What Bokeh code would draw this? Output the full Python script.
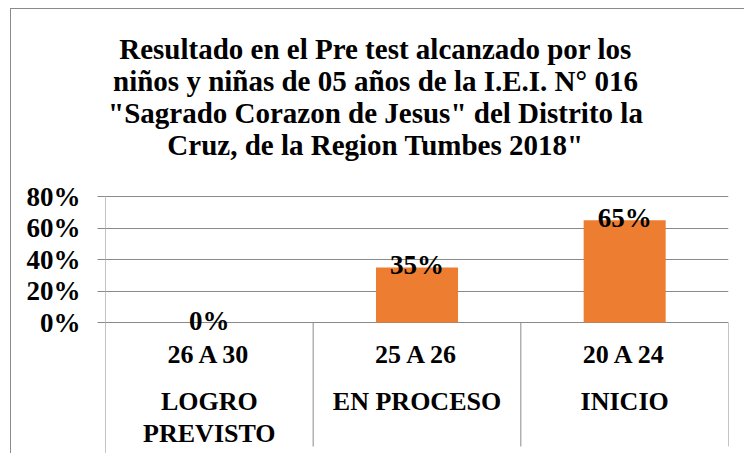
from bokeh.plotting import figure
from bokeh.models import Range1d, FixedTicker, NumeralTickFormatter, Label, ColumnDataSource
from bokeh.core.properties import value
from bokeh.embed import file_html
from bokeh.resources import INLINE

# ---- data ----
ranges = ["26 A 30", "25 A 26", "20 A 24"]
levels = ["LOGRO\nPREVISTO", "EN PROCESO", "INICIO"]
percent = [0.00, 0.35, 0.65]
y_ticks = [0.0, 0.2, 0.4, 0.6, 0.8]
title_lines = [
    "Resultado en el Pre test alcanzado por los",
    "niños y niñas de 05 años de la I.E.I. N° 016",
    "\"Sagrado Corazon de Jesus\" del Distrito la",
    "Cruz, de la Region Tumbes 2018\"",
]

FONT = "Liberation Serif"
GRAY = "#8a8a8a"
ORANGE = "#ED7D31"

n = len(ranges)
px_per_unit = 157.5          # vertical scale (pixels per 100%)
y_top_grid = max(y_ticks)
y_bottom = -132 / px_per_unit
y_top = 313 / px_per_unit
y_sep_end = -124 / px_per_unit

p = figure(width=734, height=445, output_backend="svg", toolbar_location=None,
           x_range=Range1d(0, n), y_range=Range1d(y_bottom, y_top),
           x_axis_location=None, min_border_left=94, min_border_right=17,
           min_border_top=0, min_border_bottom=0)
p.styles = {"margin-left": "10px", "margin-top": "8px",
            "border-left": f"1px solid {GRAY}", "border-top": f"1px solid {GRAY}"}
p.outline_line_color = None
p.background_fill_color = "white"
p.border_fill_color = "white"

# title lines
title_x = 1.30
for i, line in enumerate(title_lines):
    base = 48.5 + 32 * i
    p.add_layout(Label(x=title_x, y=(322 - base) / px_per_unit,
                       text=line, text_align="center", text_baseline="alphabetic",
                       text_font=FONT, text_font_style="bold", text_font_size="29px",
                       text_color="black"))

# y axis
ax = p.yaxis[0]
ax.ticker = FixedTicker(ticks=y_ticks)
ax.formatter = NumeralTickFormatter(format="0%")
ax.axis_line_color = None
ax.major_tick_line_color = GRAY
ax.major_tick_out = 8
ax.major_tick_in = 0
ax.minor_tick_line_color = None
ax.major_label_standoff = 17
ax.major_label_text_font = FONT
ax.major_label_text_font_style = "bold"
ax.major_label_text_font_size = "27px"
ax.major_label_text_color = "black"

p.ygrid.ticker = FixedTicker(ticks=y_ticks)
p.ygrid.grid_line_color = GRAY
p.xgrid.grid_line_color = None

centers = [i + 0.5 for i in range(n)]
src = ColumnDataSource(dict(x=centers, top=percent,
                            label=[f"{v:.0%}" for v in percent],
                            rng=ranges, lvl=levels))

p.vbar(x="x", top="top", width=0.395, bottom=0, source=src,
       fill_color=ORANGE, line_color=None)

p.text(x="x", y="top", text="label", source=src, text_align="center",
       text_baseline="alphabetic", y_offset=-2, text_font=value(FONT),
       text_font_style="bold", text_font_size="27px", text_color="black")

# category table lines
p.segment(x0=[0], y0=[y_top_grid], x1=[0], y1=[y_bottom], line_color=GRAY, line_width=1)
p.segment(x0=list(range(1, n + 1)), y0=[0] * n, x1=list(range(1, n + 1)),
          y1=[y_sep_end] * n, line_color=GRAY, line_width=1)

p.text(x="x", y=-0.203, text="rng", source=src, text_align="center",
       text_baseline="middle", text_font=value(FONT), text_font_style="bold",
       text_font_size="26px", text_color="black")
p.text(x="x", y=-0.41, text="lvl", source=src, text_align="center",
       text_baseline="top", text_line_height=1.1, text_font=value(FONT),
       text_font_style="bold", text_font_size="26px", text_color="black")

open("out.html", "w").write(file_html(p, INLINE))
